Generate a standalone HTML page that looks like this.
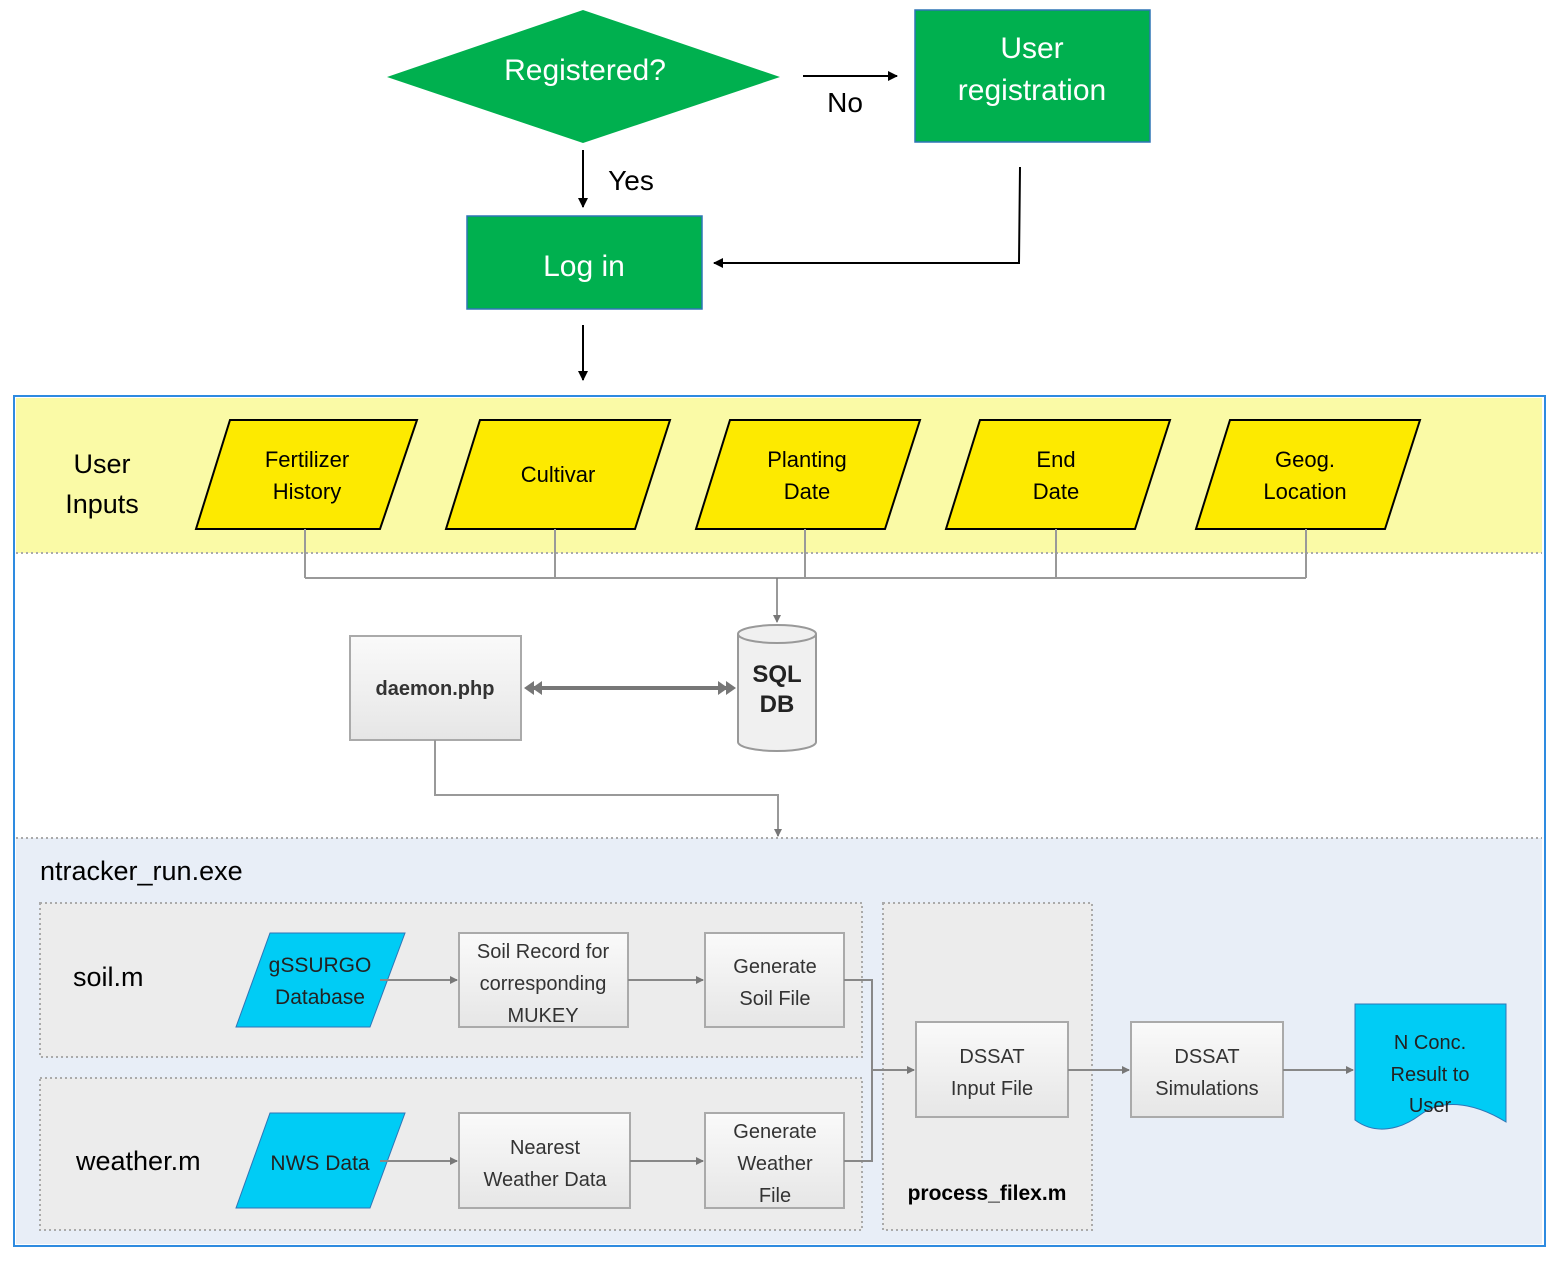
<!DOCTYPE html>
<html><head><meta charset="utf-8"><style>
html,body{margin:0;padding:0;background:#fff;}
svg{display:block;font-family:"Liberation Sans",sans-serif;}
</style></head><body>
<svg width="1562" height="1264" viewBox="0 0 1562 1264" xmlns="http://www.w3.org/2000/svg">
<defs>
<marker id="ab" markerWidth="10" markerHeight="10" refX="9" refY="5" orient="auto" markerUnits="userSpaceOnUse"><path d="M0,0 L10,5 L0,10 z" fill="#000"/></marker>
<marker id="ag" markerWidth="8" markerHeight="8" refX="7" refY="4" orient="auto" markerUnits="userSpaceOnUse"><path d="M0,0 L8,4 L0,8 z" fill="#777"/></marker>
<linearGradient id="gb" x1="0" y1="0" x2="0" y2="1"><stop offset="0" stop-color="#fafafa"/><stop offset="1" stop-color="#e6e6e6"/></linearGradient>
</defs>
<!-- top flow -->
<polygon points="387,77 583,10 780,77 583,143" fill="#00b04f"/>
<text x="585" y="80" font-size="30" fill="#fff" text-anchor="middle">Registered?</text>
<rect x="915" y="10" width="235" height="132" fill="#00b04f" stroke="#2e75b6" stroke-width="1.5"/>
<text x="1032" y="58" font-size="30" fill="#fff" text-anchor="middle">User</text>
<text x="1032" y="100" font-size="30" fill="#fff" text-anchor="middle">registration</text>
<rect x="467" y="216" width="235" height="93" fill="#00b04f" stroke="#2e75b6" stroke-width="1.5"/>
<text x="584" y="276" font-size="30" fill="#fff" text-anchor="middle">Log in</text>
<line x1="803" y1="76" x2="897" y2="76" stroke="#000" stroke-width="2" marker-end="url(#ab)"/>
<text x="845" y="112" font-size="28" text-anchor="middle">No</text>
<line x1="583" y1="150" x2="583" y2="207" stroke="#000" stroke-width="2" marker-end="url(#ab)"/>
<text x="631" y="190" font-size="28" text-anchor="middle">Yes</text>
<polyline points="1020,167 1019,263 714,263" fill="none" stroke="#000" stroke-width="2" marker-end="url(#ab)"/>
<line x1="583" y1="325" x2="583" y2="380" stroke="#000" stroke-width="2" marker-end="url(#ab)"/>
<!-- outer container -->
<rect x="14" y="396" width="1531" height="850" fill="#fff" stroke="#2e8be0" stroke-width="2"/>
<rect x="16" y="398" width="1526" height="155" fill="#fafaa6"/>
<line x1="16" y1="553" x2="1542" y2="553" stroke="#aaa" stroke-width="2" stroke-dasharray="2,3"/>
<rect x="16" y="838" width="1526" height="406" fill="#e8eef7"/>
<line x1="16" y1="838" x2="1542" y2="838" stroke="#aaa" stroke-width="2" stroke-dasharray="2,3"/>
<text x="102" y="473" font-size="27" text-anchor="middle">User</text>
<text x="102" y="513" font-size="27" text-anchor="middle">Inputs</text>
<g fill="#fdea00" stroke="#000" stroke-width="2">
<polygon points="230,420 417,420 380,529 196,529"/>
<polygon points="480,420 670,420 635,529 446,529"/>
<polygon points="730,420 920,420 885,529 696,529"/>
<polygon points="980,420 1170,420 1135,529 946,529"/>
<polygon points="1230,420 1420,420 1385,529 1196,529"/>
</g>
<g font-size="22" text-anchor="middle">
<text x="307" y="467">Fertilizer</text><text x="307" y="499">History</text>
<text x="558" y="482">Cultivar</text>
<text x="807" y="467">Planting</text><text x="807" y="499">Date</text>
<text x="1056" y="467">End</text><text x="1056" y="499">Date</text>
<text x="1305" y="467">Geog.</text><text x="1305" y="499">Location</text>
</g>
<g stroke="#999" stroke-width="2" fill="none">
<line x1="305" y1="529" x2="305" y2="578"/><line x1="555" y1="529" x2="555" y2="578"/>
<line x1="805" y1="529" x2="805" y2="578"/><line x1="1056" y1="529" x2="1056" y2="578"/>
<line x1="1306" y1="529" x2="1306" y2="578"/>
<line x1="305" y1="578" x2="1306" y2="578"/>
</g>
<line x1="777" y1="578" x2="777" y2="622" stroke="#777" stroke-width="1.5" marker-end="url(#ag)"/>
<rect x="350" y="636" width="171" height="104" fill="url(#gb)" stroke="#aaa" stroke-width="2"/>
<text x="435" y="695" font-size="20" font-weight="bold" fill="#333" text-anchor="middle">daemon.php</text>
<path d="M738,634 L738,742 A39,9 0 0 0 816,742 L816,634 A39,9 0 0 0 738,634 A39,9 0 0 0 816,634" fill="#f0f0f0" stroke="#999" stroke-width="2"/>
<text x="777" y="682" font-size="24" font-weight="bold" fill="#222" text-anchor="middle">SQL</text>
<text x="777" y="712" font-size="24" font-weight="bold" fill="#222" text-anchor="middle">DB</text>
<line x1="528" y1="688" x2="732" y2="688" stroke="#777" stroke-width="4"/>
<path d="M524,688 L534,681 L534,695 z M532,688 L542,681 L542,695 z M736,688 L726,681 L726,695 z M728,688 L718,681 L718,695 z" fill="#777"/>
<polyline points="435,740 435,795 778,795 778,836" fill="none" stroke="#999" stroke-width="2" marker-end="url(#ag)"/>
<!-- ntracker -->
<text x="40" y="880" font-size="27">ntracker_run.exe</text>
<g fill="#ececec" stroke="#aaa" stroke-width="2" stroke-dasharray="2,3">
<rect x="40" y="903" width="822" height="154"/>
<rect x="40" y="1078" width="822" height="152"/>
<rect x="883" y="903" width="209" height="327"/>
</g>
<text x="73" y="986" font-size="27">soil.m</text>
<text x="76" y="1170" font-size="27">weather.m</text>
<text x="987" y="1200" font-size="21" font-weight="bold" text-anchor="middle">process_filex.m</text>
<g fill="#00ccf5" stroke="#2e75b6" stroke-width="1">
<polygon points="270,933 405,933 370,1027 236,1027"/>
<polygon points="270,1113 405,1113 370,1208 236,1208"/>
</g>
<g font-size="21" text-anchor="middle" fill="#222">
<text x="320" y="972">gSSURGO</text><text x="320" y="1004">Database</text>
<text x="320" y="1170">NWS Data</text>
</g>
<g fill="url(#gb)" stroke="#aaa" stroke-width="2">
<rect x="459" y="933" width="169" height="94"/>
<rect x="705" y="933" width="139" height="94"/>
<rect x="459" y="1113" width="171" height="95"/>
<rect x="705" y="1113" width="139" height="95"/>
<rect x="916" y="1022" width="152" height="95"/>
<rect x="1131" y="1022" width="152" height="95"/>
</g>
<g font-size="20" text-anchor="middle" fill="#333">
<text x="543" y="958">Soil Record for</text><text x="543" y="990">corresponding</text><text x="543" y="1022">MUKEY</text>
<text x="775" y="973">Generate</text><text x="775" y="1005">Soil File</text>
<text x="545" y="1154">Nearest</text><text x="545" y="1186">Weather Data</text>
<text x="775" y="1138">Generate</text><text x="775" y="1170">Weather</text><text x="775" y="1202">File</text>
<text x="992" y="1063">DSSAT</text><text x="992" y="1095">Input File</text>
<text x="1207" y="1063">DSSAT</text><text x="1207" y="1095">Simulations</text>
</g>
<g stroke="#888" stroke-width="2" fill="none">
<line x1="380" y1="980" x2="457" y2="980" marker-end="url(#ag)"/>
<line x1="628" y1="980" x2="703" y2="980" marker-end="url(#ag)"/>
<line x1="380" y1="1161" x2="457" y2="1161" marker-end="url(#ag)"/>
<line x1="630" y1="1161" x2="703" y2="1161" marker-end="url(#ag)"/>
<polyline points="844,980 872,980 872,1161 844,1161"/>
<line x1="872" y1="1070" x2="914" y2="1070" marker-end="url(#ag)"/>
<line x1="1068" y1="1070" x2="1129" y2="1070" marker-end="url(#ag)"/>
<line x1="1283" y1="1070" x2="1353" y2="1070" marker-end="url(#ag)"/>
</g>
<path d="M1355,1004 L1506,1004 L1506,1122 C1470,1100 1440,1100 1420,1115 C1400,1130 1375,1135 1355,1120 Z" fill="#00ccf5" stroke="#2e75b6" stroke-width="1"/>
<g font-size="20" text-anchor="middle" fill="#222">
<text x="1430" y="1049">N Conc.</text><text x="1430" y="1081">Result to</text><text x="1430" y="1112">User</text>
</g>
</svg>
</body></html>
